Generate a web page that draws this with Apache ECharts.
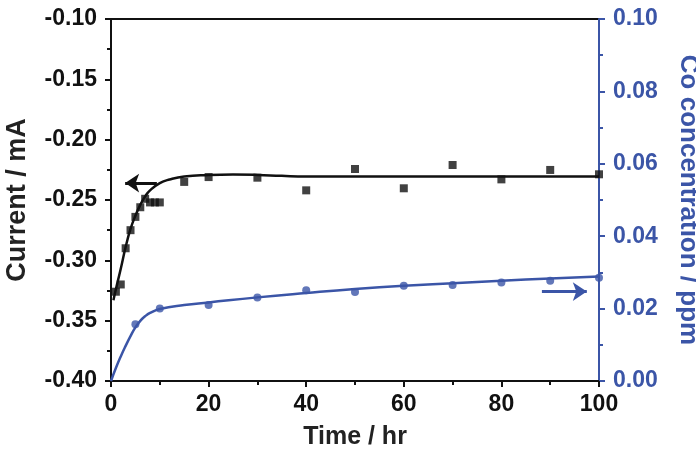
<!DOCTYPE html>
<html>
<head>
<meta charset="utf-8">
<script src="https://cdn.jsdelivr.net/npm/echarts@6/dist/echarts.min.js"></script>
<style>
html,body{margin:0;padding:0;background:#fff;}
#chart_main{width:696px;height:450px;}
</style>
</head>
<body>
<div id="chart_main"></div>
<script type="text/javascript">
// measured current (left axis)
var current_x = [1, 2, 3, 4, 5, 6, 7, 8, 9, 10, 15, 20, 30, 40, 50, 60, 70, 80, 90, 100];
var current_y = [-0.326, -0.320, -0.290, -0.275, -0.264, -0.256, -0.249, -0.252, -0.252, -0.252,
    -0.235, -0.231, -0.2315, -0.242, -0.2243, -0.2403, -0.221, -0.2329, -0.2251, -0.2287];
// fitted current curve
var current_fit_x = [0.5, 1, 2, 3, 4, 5, 6, 7, 8, 10, 12, 15, 20, 25, 30, 35, 40, 60, 80, 100];
var current_fit_y = [-0.333, -0.324, -0.307, -0.289, -0.274, -0.263, -0.254, -0.247, -0.242, -0.236,
    -0.233, -0.2305, -0.2293, -0.2289, -0.2292, -0.2300, -0.2305, -0.2305, -0.2305, -0.2305];
// Co concentration (right axis)
var co_x = [5, 10, 20, 30, 40, 50, 60, 70, 80, 90, 100];
var co_y = [0.0157, 0.0200, 0.0210, 0.0231, 0.0251, 0.0246, 0.0263, 0.0265, 0.0272, 0.0277, 0.0285];
var co_fit_x = [0, 1, 2, 3, 4, 5, 6, 7, 8, 10, 15, 20, 30, 40, 50, 60, 70, 80, 90, 100];
var co_fit_y = [0, 0.0036, 0.0068, 0.0097, 0.0124, 0.0148, 0.0166, 0.0179, 0.0188, 0.0199, 0.0210,
    0.0217, 0.0231, 0.0243, 0.0254, 0.0263, 0.0270, 0.0277, 0.0283, 0.0289];
// arrows pointing at each axis
var arrow_left = [[9.4, -0.236], [2.9, -0.236]];
var arrow_right = [[88.3, 0.0247], [97.5, 0.0247]];

var blue = '#3b55a7';
var font = 'Liberation Sans, Arial, sans-serif';

function pairs(xs, ys){
    var out = [];
    for (var i = 0; i < xs.length; i++) out.push([xs[i], ys[i]]);
    return out;
}

var myChart = echarts.init(document.getElementById('chart_main'));
var option = {
    animation: false,
    grid: {left: 111, right: 97, top: 19, bottom: 69, outerBoundsMode: 'none', containLabel: false,
        show: true, borderColor: '#111', borderWidth: 2},
    xAxis: {
        type: 'value', min: 0, max: 100, interval: 20,
        name: 'Time / hr', nameLocation: 'middle', nameGap: 44,
        nameTextStyle: {fontFamily: font, fontWeight: 'bold', fontSize: 25, color: '#222'},
        axisLine: {lineStyle: {color: '#111', width: 2}},
        axisTick: {inside: false, length: 6, lineStyle: {width: 2, color: '#111'}},
        minorTick: {show: true, splitNumber: 2, length: 4, lineStyle: {width: 2, color: '#111'}},
        axisLabel: {fontFamily: font, fontWeight: 'bold', fontSize: 23, color: '#111', margin: 12},
        splitLine: {show: false}
    },
    yAxis: [{
        type: 'value', min: -0.40, max: -0.10, interval: 0.05,
        name: 'Current / mA', nameLocation: 'middle', nameGap: 80, nameRotate: 90,
        nameTextStyle: {fontFamily: font, fontWeight: 'bold', fontSize: 27, color: '#222'},
        axisLine: {show: true, lineStyle: {color: '#111', width: 2}},
        axisTick: {length: 6, lineStyle: {width: 2, color: '#111'}},
        minorTick: {show: true, splitNumber: 2, length: 4, lineStyle: {width: 2, color: '#111'}},
        axisLabel: {fontFamily: font, fontWeight: 'bold', fontSize: 23, color: '#111', margin: 14,
            formatter: function(v){ return v.toFixed(2); }},
        splitLine: {show: false}
    }, {
        type: 'value', min: 0, max: 0.10, interval: 0.02, position: 'right',
        name: 'Co concentration / ppm', nameLocation: 'middle', nameGap: 76, nameRotate: -90,
        nameTextStyle: {fontFamily: font, fontWeight: 'bold', fontSize: 26, color: blue},
        axisLine: {show: true, lineStyle: {color: blue, width: 2}},
        axisTick: {length: 6, lineStyle: {width: 2, color: blue}},
        minorTick: {show: true, splitNumber: 2, length: 4, lineStyle: {width: 2, color: blue}},
        axisLabel: {fontFamily: font, fontWeight: 'bold', fontSize: 23, color: blue, margin: 14,
            formatter: function(v){ return v.toFixed(2); }},
        splitLine: {show: false}
    }],
    series: [{
        name: 'current fit', type: 'line', yAxisIndex: 0, smooth: true, symbol: 'none',
        lineStyle: {color: '#111', width: 2.5},
        data: pairs(current_fit_x, current_fit_y),
        markLine: {
            silent: true, symbol: ['none', 'arrow'], symbolSize: [14, 14],
            label: {show: false},
            lineStyle: {color: '#111', width: 3, type: 'solid'},
            data: [[{coord: arrow_left[0]}, {coord: arrow_left[1]}]]
        }
    }, {
        name: 'current', type: 'scatter', yAxisIndex: 0, symbol: 'rect', symbolSize: 8,
        itemStyle: {color: '#111'},
        data: pairs(current_x, current_y)
    }, {
        name: 'Co fit', type: 'line', yAxisIndex: 1, smooth: true, symbol: 'none',
        lineStyle: {color: blue, width: 2.5},
        data: pairs(co_fit_x, co_fit_y),
        markLine: {
            silent: true, symbol: ['none', 'arrow'], symbolSize: [14, 14],
            label: {show: false},
            lineStyle: {color: blue, width: 3, type: 'solid'},
            data: [[{coord: arrow_right[0]}, {coord: arrow_right[1]}]]
        }
    }, {
        name: 'Co', type: 'scatter', yAxisIndex: 1, symbol: 'circle', symbolSize: 8,
        itemStyle: {color: blue},
        data: pairs(co_x, co_y)
    }]
};
myChart.setOption(option);
</script>
</body>
</html>
